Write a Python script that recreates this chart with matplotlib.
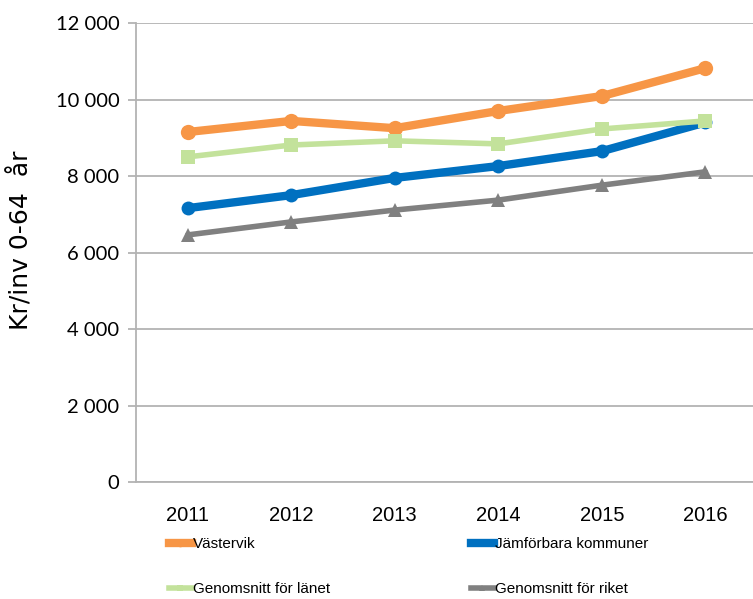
import matplotlib
matplotlib.use("Agg")
import matplotlib.pyplot as plt
from matplotlib.ticker import FuncFormatter

years = ["2011", "2012", "2013", "2014", "2015", "2016"]
vastervik = [9150, 9440, 9250, 9700, 10090, 10820]
jamforbara = [7160, 7500, 7950, 8260, 8650, 9400]
lanet = [8500, 8810, 8920, 8840, 9230, 9440]
riket = [6460, 6800, 7110, 7370, 7760, 8110]

series = [
    ("Västervik", vastervik, "#F79646", 6.0, "o", 11),
    ("Jämförbara kommuner", jamforbara, "#0070C0", 6.0, "o", 10),
    ("Genomsnitt för länet", lanet, "#C3E29B", 4.0, "s", 10),
    ("Genomsnitt för riket", riket, "#808080", 4.0, "^", 10),
]

fig = plt.figure(figsize=(7.53, 5.99), dpi=100)
ax = fig.add_axes([0.1806, 0.1953, 0.8194, 0.7663])

x = list(range(len(years)))
for label, vals, color, lw, marker, ms in series:
    ax.plot(x, vals, color=color, lw=lw, marker=marker, markersize=ms,
            markeredgewidth=0, label=label, solid_capstyle="round", zorder=3)

ax.set_xlim(-0.5, 5.46)
ax.set_ylim(0, 12000)
ax.set_yticks(range(0, 12001, 2000))
ax.yaxis.set_major_formatter(FuncFormatter(lambda v, p: f"{int(v):,}".replace(",", " ")))
ax.set_xticks(x)
ax.set_xticklabels(years)

ax.grid(axis="y", color="#B3B3B3", lw=1.3, zorder=0)
for s in ["top", "right"]:
    ax.spines[s].set_visible(False)
for s in ["left", "bottom"]:
    ax.spines[s].set_color("#B3B3B3")
    ax.spines[s].set_linewidth(1.3)

ax.tick_params(axis="y", length=6, width=1.3, color="#B3B3B3", pad=6)
ax.tick_params(axis="x", length=0, pad=17)
for t in ax.get_yticklabels():
    t.set_fontfamily("Lato")
    t.set_fontsize(14.5)
for t in ax.get_xticklabels():
    t.set_fontfamily("Liberation Sans")
    t.set_fontsize(14.5)

ax.set_ylabel("Kr/inv 0-64  år", fontfamily="DejaVu Sans", fontsize=18)
ax.yaxis.set_label_coords(-0.166, 0.526)

# legend under the chart, two columns (matplotlib fills column by column)
leg_handles = [
    plt.Line2D([], [], color=c, lw=lw, marker=m, markersize=ms * 0.5, markeredgewidth=0)
    for _, _, c, lw, m, ms in series
]
labels = [s[0] for s in series]
order = [0, 2, 1, 3]
fig.legend([leg_handles[i] for i in order], [labels[i] for i in order],
           loc="upper left", bbox_to_anchor=(0.224, 0.103), ncol=2, frameon=False,
           prop={"family": "Liberation Sans", "size": 11},
           handlelength=1.5, handletextpad=0.1, columnspacing=9.2,
           labelspacing=2.0, borderpad=0, borderaxespad=0)

fig.savefig("out.png", dpi=100)
